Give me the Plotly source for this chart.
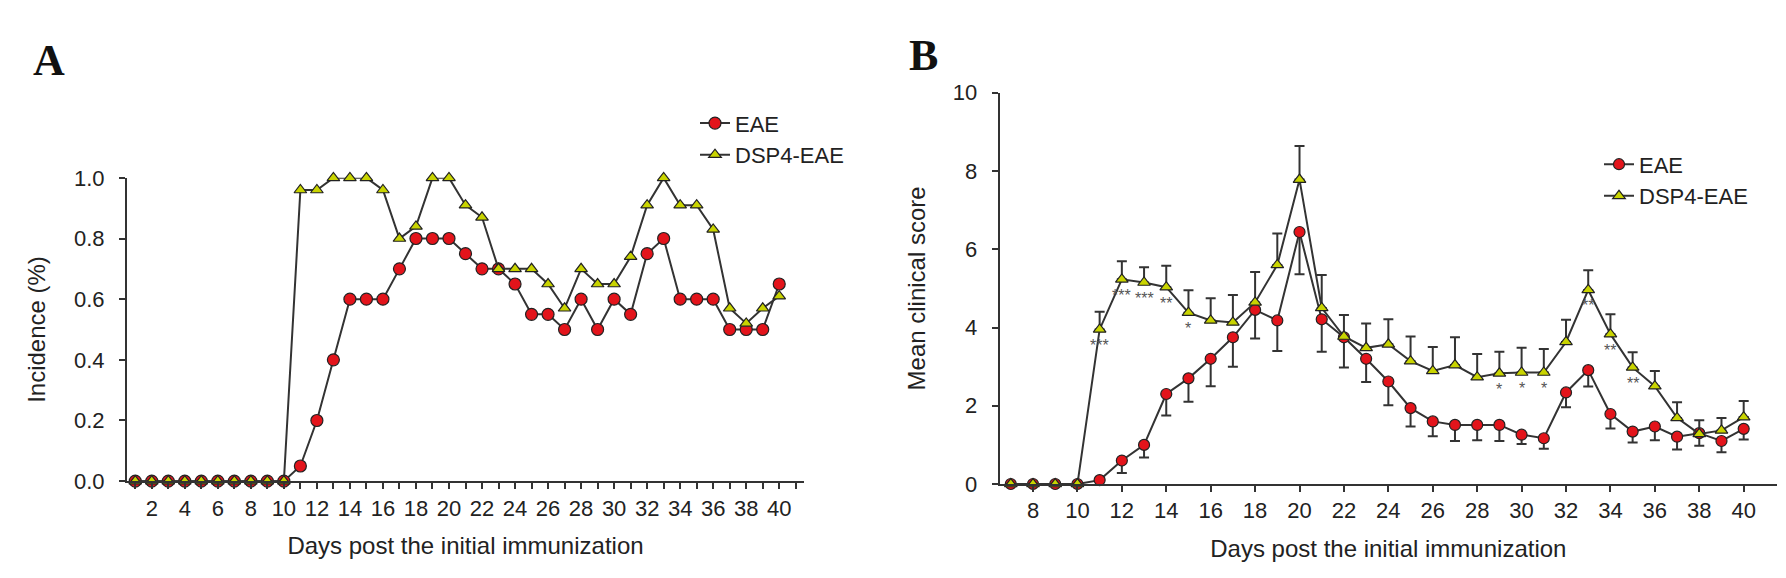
import plotly.graph_objects as go

# panel A: incidence
days_a = list(range(1, 41))
eae_inc = [0, 0, 0, 0, 0, 0, 0, 0, 0, 0,
           0.05, 0.2, 0.4, 0.6, 0.6, 0.6, 0.7, 0.8, 0.8, 0.8,
           0.75, 0.7, 0.7, 0.65, 0.55, 0.55, 0.5, 0.6, 0.5, 0.6,
           0.55, 0.75, 0.8, 0.6, 0.6, 0.6, 0.5, 0.5, 0.5, 0.65]
dsp4_inc = [0, 0, 0, 0, 0, 0, 0, 0, 0, 0,
            0.96, 0.96, 1.0, 1.0, 1.0, 0.96, 0.8, 0.84, 1.0, 1.0,
            0.91, 0.87, 0.7, 0.7, 0.7, 0.65, 0.57, 0.7, 0.65, 0.65,
            0.74, 0.91, 1.0, 0.91, 0.91, 0.83, 0.57, 0.52, 0.57, 0.61]

# panel B: mean clinical score
days_b = list(range(7, 41))
eae_score = [0, 0, 0, 0, 0.1, 0.6, 1.0, 2.3, 2.7, 3.2,
             3.75, 4.45, 4.18, 6.44, 4.21, 3.75, 3.2, 2.62, 1.94, 1.6,
             1.51, 1.51, 1.51, 1.26, 1.17, 2.34, 2.91, 1.79, 1.34, 1.47,
             1.21, 1.3, 1.1, 1.41]
eae_err = [0, 0, 0, 0, 0, 0.32, 0.32, 0.55, 0.6, 0.7,
           0.75, 0.73, 0.78, 1.08, 0.83, 0.77, 0.59, 0.61, 0.47, 0.38,
           0.41, 0.39, 0.41, 0.24, 0.27, 0.38, 0.42, 0.37, 0.28, 0.35,
           0.33, 0.32, 0.29, 0.27]
dsp4_score = [0, 0, 0, 0, 3.95, 5.23, 5.15, 5.03, 4.38, 4.18,
              4.13, 4.64, 5.6, 7.78, 4.5, 3.77, 3.48, 3.57, 3.14, 2.89,
              3.04, 2.73, 2.83, 2.85, 2.85, 3.63, 4.96, 3.83, 2.98, 2.5,
              1.69, 1.28, 1.37, 1.71]
dsp4_err = [0, 0, 0, 0, 0.45, 0.46, 0.39, 0.55, 0.57, 0.57,
            0.7, 0.78, 0.8, 0.86, 0.84, 0.55, 0.62, 0.64, 0.63, 0.61,
            0.71, 0.59, 0.55, 0.63, 0.6, 0.57, 0.5, 0.51, 0.39, 0.39,
            0.4, 0.35, 0.32, 0.41]

# significance marks under DSP4-EAE points
sig_days = [11, 12, 13, 14, 15, 29, 30, 31, 33, 34, 35]
sig_text = ["***", "***", "***", "**", "*", "*", "*", "*", "**", "**", "**"]

tick_days_a = list(range(1, 42))
tick_text_a = [str(d) if d % 2 == 0 and d <= 40 else "" for d in tick_days_a]

FONT = "Liberation Sans, Arial, sans-serif"
RED = "#e3141b"
YELLOW = "#c9d400"
LINE = "#333333"
ZEROS = [0] * len(days_b)
W, H = 1786, 578

fig = go.Figure()

fig.add_trace(go.Scatter(
    x=days_a, y=eae_inc, name="EAE", mode="lines+markers",
    line=dict(color=LINE, width=2),
    marker=dict(symbol="circle", size=12, color=RED, line=dict(color="#222", width=1.2)),
    cliponaxis=False, xaxis="x", yaxis="y", legend="legend"))
fig.add_trace(go.Scatter(
    x=days_a, y=dsp4_inc, name="DSP4-EAE", mode="lines+markers",
    line=dict(color=LINE, width=2),
    marker=dict(symbol="triangle-up", size=11, color=YELLOW, line=dict(color="#222", width=1.2)),
    cliponaxis=False, xaxis="x", yaxis="y", legend="legend"))

fig.add_trace(go.Scatter(
    x=days_b, y=eae_score, name="EAE", mode="lines+markers",
    line=dict(color=LINE, width=2),
    marker=dict(symbol="circle", size=11, color=RED, line=dict(color="#222", width=1.2)),
    error_y=dict(type="data", symmetric=False, array=ZEROS, arrayminus=eae_err,
                 color=LINE, thickness=2, width=5),
    cliponaxis=False, xaxis="x2", yaxis="y2", legend="legend2"))
fig.add_trace(go.Scatter(
    x=days_b, y=dsp4_score, name="DSP4-EAE", mode="lines+markers",
    line=dict(color=LINE, width=2),
    marker=dict(symbol="triangle-up", size=11, color=YELLOW, line=dict(color="#222", width=1.2)),
    error_y=dict(type="data", symmetric=False, array=dsp4_err, arrayminus=ZEROS,
                 color=LINE, thickness=2, width=5),
    cliponaxis=False, xaxis="x2", yaxis="y2", legend="legend2"))

annotations = []
for d, t in zip(sig_days, sig_text):
    annotations.append(dict(
        x=d, y=dsp4_score[days_b.index(d)], xref="x2", yref="y2", text=t,
        showarrow=False, xanchor="center", yanchor="middle", yshift=-16,
        font=dict(family=FONT, size=16, color="#555")))

letter_font = dict(family="Liberation Serif, Times New Roman, serif", size=44, color="#111")
annotations.append(dict(x=41 / W, y=1 - 42 / H, xref="paper", yref="paper", text="<b>A</b>",
                        showarrow=False, xanchor="center", yanchor="middle", font=letter_font))
annotations.append(dict(x=916 / W, y=1 - 37 / H, xref="paper", yref="paper", text="<b>B</b>",
                        showarrow=False, xanchor="center", yanchor="middle", font=letter_font))

axis_common = dict(
    showgrid=False, zeroline=False, showline=True, linecolor=LINE, linewidth=2,
    ticks="outside", ticklen=6, tickwidth=2, tickcolor=LINE,
    tickfont=dict(family=FONT, size=22, color="#222"),
)
title_font = dict(family=FONT, size=24, color="#222")

fig.update_layout(
    width=W, height=H,
    paper_bgcolor="white", plot_bgcolor="white",
    margin=dict(l=0, r=0, t=0, b=0),
    showlegend=True,
    xaxis=dict(axis_common, domain=[119 / W, 796 / W], range=[0.5, 41.5],
               tickmode="array", tickvals=tick_days_a, ticktext=tick_text_a,
               title=dict(text="Days post the initial immunization", font=title_font, standoff=18),
               anchor="y"),
    yaxis=dict(axis_common, domain=[1 - 482 / H, 1 - 165 / H], range=[0, 1.0],
               tickmode="array", tickvals=[0, 0.2, 0.4, 0.6, 0.8, 1.0], tickformat=".1f",
               ticklabelstandoff=10,
               title=dict(text="Incidence (%)", font=title_font, standoff=22),
               anchor="x"),
    xaxis2=dict(axis_common, domain=[991.7 / W, 1769 / W], range=[6.5, 41.5],
                tickmode="array", tickvals=list(range(8, 41, 2)),
                title=dict(text="Days post the initial immunization", font=title_font, standoff=18),
                anchor="y2"),
    yaxis2=dict(axis_common, domain=[1 - 485 / H, 1 - 76 / H], range=[0, 10],
                tickmode="array", tickvals=[0, 2, 4, 6, 8, 10],
                ticklabelstandoff=10,
                title=dict(text="Mean clinical score", font=title_font, standoff=20),
                anchor="x2"),
    legend=dict(x=687 / W, y=1 - 86 / H, xanchor="left", yanchor="top",
                bgcolor="rgba(0,0,0,0)", itemwidth=30,
                font=dict(family=FONT, size=22, color="#222")),
    legend2=dict(x=1591 / W, y=1 - 129 / H, xanchor="left", yanchor="top",
                 bgcolor="rgba(0,0,0,0)", itemwidth=30,
                 font=dict(family=FONT, size=22, color="#222")),
    annotations=annotations,
)

fig.write_html("out.html")
